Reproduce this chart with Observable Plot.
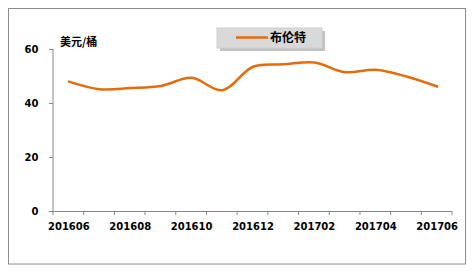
<!DOCTYPE html>
<html>
<head>
<meta charset="utf-8">
<script src="https://cdn.jsdelivr.net/npm/d3@7"></script>
<script src="https://cdn.jsdelivr.net/npm/@observablehq/plot@0.6"></script>
<style>
  html, body { margin: 0; padding: 0; background: #fff; }
  #chart { width: 474px; height: 271px; }
</style>
</head>
<body>
<div id="chart"></div>
<script>
const months = ["201606","201607","201608","201609","201610","201611","201612","201701","201702","201703","201704","201705","201706"];
const brent = [48.1, 45.3, 45.7, 46.5, 49.5, 44.9, 53.6, 54.5, 55.2, 51.6, 52.5, 50.0, 46.3];
const yTicks = [0, 20, 40, 60];
const xLabels = ["201606","201608","201610","201612","201702","201704","201706"];
const seriesName = "布伦特";
const unitLabel = "美元/桶";

const data = months.map((m, i) => ({month: m, value: brent[i]}));
const lineColor = "#E46C0A";
const axisColor = "#868686";
const font = "'DejaVu Sans', Verdana, sans-serif";
const cjkFont = "'Noto Sans CJK SC', 'DejaVu Sans', sans-serif";

const plot = Plot.plot({
  width: 474,
  height: 271,
  marginLeft: 53,
  marginRight: 22,
  marginTop: 49,
  marginBottom: 60,
  style: {fontFamily: font, fontWeight: "bold", fontSize: "10px", color: "#000", background: "#fff"},
  x: {type: "point", domain: months, padding: 0.5, round: false, axis: null, label: null},
  y: {domain: [0, 60], axis: null, label: null},
  marks: [
    Plot.axisY({ticks: yTicks, tickSize: 4, tickPadding: 11, label: null, stroke: axisColor, fill: "#000", fontWeight: "bold", fontSize: 10, fontFamily: font}),
    Plot.axisX({ticks: xLabels, tickSize: 0, tickPadding: 11, label: null, fill: "#000", fontWeight: "bold", fontSize: 10, fontFamily: font}),
    Plot.ruleY([0], {stroke: axisColor, strokeWidth: 1}),
    Plot.line(data, {x: "month", y: "value", stroke: lineColor, strokeWidth: 2.5, curve: "catmull-rom"})
  ]
});

document.getElementById("chart").appendChild(plot);

const svg = d3.select(plot);
const xs = plot.scale("x");
const ys = plot.scale("y");
const step = xs.apply(months[1]) - xs.apply(months[0]);
const y0 = ys.apply(0), yTop = ys.apply(60);
const xLeft = xs.apply(months[0]) - step / 2;

// y axis line
svg.append("line")
  .attr("x1", xLeft).attr("x2", xLeft)
  .attr("y1", y0).attr("y2", yTop)
  .attr("stroke", axisColor).attr("stroke-width", 1);

// x axis boundary ticks
const bounds = months.map(m => xs.apply(m) - step / 2).concat([xs.apply(months[months.length - 1]) + step / 2]);
svg.append("g").selectAll("line").data(bounds).join("line")
  .attr("x1", d => d).attr("x2", d => d)
  .attr("y1", y0).attr("y2", y0 + 4)
  .attr("stroke", axisColor).attr("stroke-width", 1);

// unit label
svg.append("text")
  .attr("x", xLeft + 7).attr("y", yTop - 3)
  .attr("text-anchor", "start")
  .attr("font-family", cjkFont).attr("font-weight", "bold").attr("font-size", 11)
  .attr("fill", "#000")
  .text(unitLabel);

// legend
const lg = svg.append("g");
lg.append("rect").attr("x", 220).attr("y", 31).attr("width", 105).attr("height", 20)
  .attr("fill", "#9a9a9a").attr("opacity", 0.6);
lg.append("rect").attr("x", 217).attr("y", 28).attr("width", 105).attr("height", 20)
  .attr("fill", "#d9d9d9").attr("stroke", "#cfcfcf");
lg.append("line").attr("x1", 236).attr("x2", 268).attr("y1", 37.5).attr("y2", 37.5)
  .attr("stroke", lineColor).attr("stroke-width", 2.5);
lg.append("text").attr("x", 270).attr("y", 38).attr("dy", "0.35em")
  .attr("text-anchor", "start")
  .attr("font-family", cjkFont).attr("font-weight", "bold").attr("font-size", 12)
  .attr("fill", "#000").text(seriesName);

// outer border
svg.append("rect").attr("x", 8.5).attr("y", 8.5).attr("width", 457).attr("height", 255.5)
  .attr("fill", "none").attr("stroke", "#8c8c8c").attr("stroke-width", 1);
</script>
</body>
</html>
